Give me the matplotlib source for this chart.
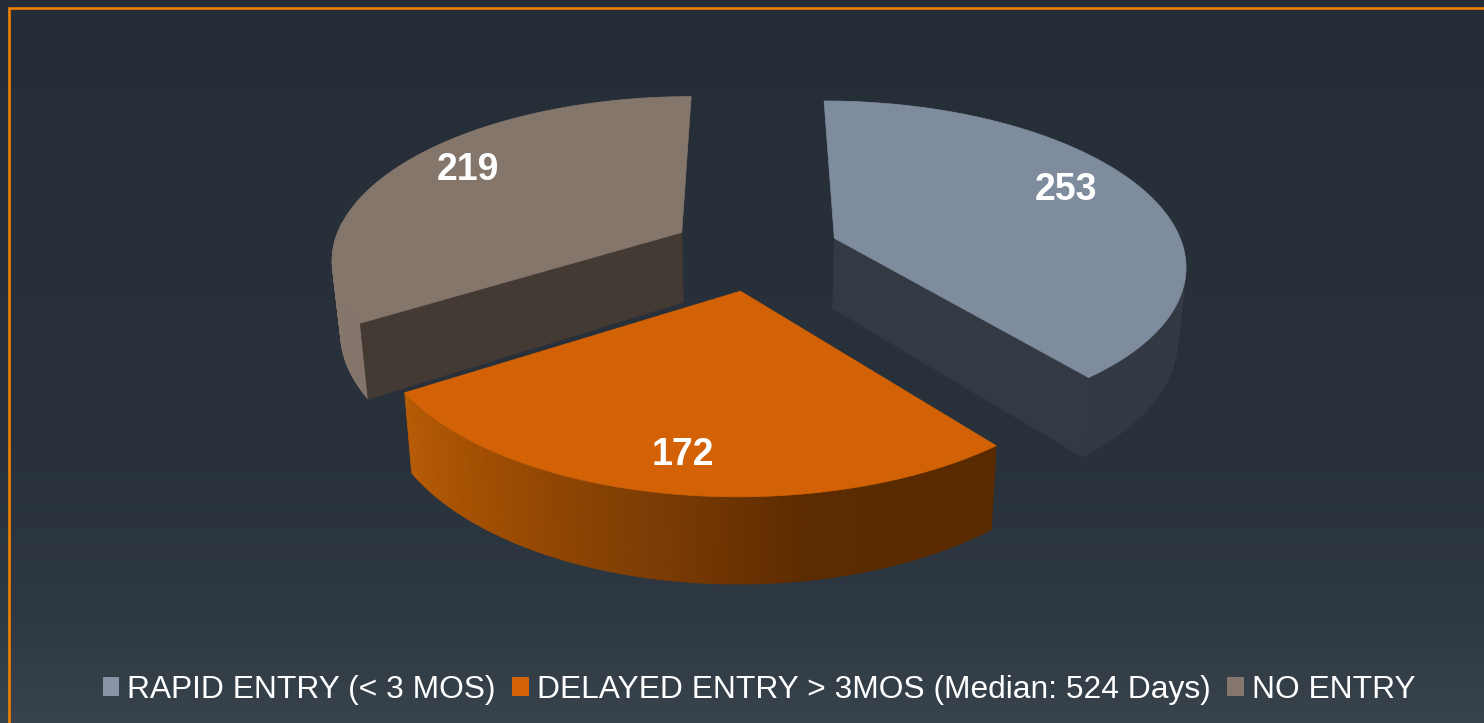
#!/usr/bin/env python3
# -*- coding: utf-8 -*-

import numpy as np
import matplotlib
matplotlib.use('Agg')
import matplotlib.pyplot as plt
from matplotlib.collections import PolyCollection
from matplotlib.colors import LinearSegmentedColormap
from matplotlib.patches import Patch, Polygon

plt.rcParams['font.family'] = ['Liberation Sans', 'DejaVu Sans']

# Chart data
categories = ['RAPID ENTRY (< 3 MOS)', 'DELAYED ENTRY > 3MOS (Median: 524 Days)', 'NO ENTRY']
values = [253, 172, 219]

top_colors = ['#7f8c9e', '#d26205', '#85766c']
legend_colors = ['#8a94a6', '#d26205', '#86776e']
cut_colors = ['#343a44', '#6a3300', '#443a34']
label_pos = [(1066, 190), (683, 455), (468, 170)]

# Which cut faces of each slice look at the viewer (0 = start, -1 = end)
cut_faces = [[-1], [], [0]]

# Projection of the tilted pie, in pixels
CX, CY = 755, 251
SCALE_X, SCALE_Y = 350, 161.4
PERSPECTIVE = 0.15
EXPLODE = 0.243
DEPTH = 71
SHRINK = 0.02


def project(x, y, low=False):
    p = 1 / (1 + PERSPECTIVE * y)
    sx = SCALE_X * x * p
    sy = -SCALE_Y * y * p
    if low:
        sx = sx * (1 - SHRINK)
        sy = sy + DEPTH * p
    return np.column_stack([CX + sx, CY + sy])


fig = plt.figure(figsize=(14.84, 7.23), dpi=100)
ax = fig.add_axes([0, 0, 1, 1])
ax.set_xlim(0, 1484)
ax.set_ylim(723, 0)
ax.axis('off')

# Background gradient
bg_cmap = LinearSegmentedColormap.from_list(
    'bg', [(0, '#262d36'), (0.62, '#29323b'), (0.85, '#2e3842'), (1, '#38434c')])
ax.imshow(np.linspace(0, 1, 256).reshape(-1, 1), cmap=bg_cmap, extent=[0, 1484, 723, 0],
          aspect='auto', zorder=0)

# Orange border, open on the right and at the bottom
ax.plot([9, 9, 1484], [723, 8, 8], color='#f08000', lw=1.9, zorder=1, solid_joinstyle='miter')

orange_rim = LinearSegmentedColormap.from_list(
    'rim', [(0, '#5a2a00'), (0.3, '#5c2b00'), (0.5, '#7a3b04'), (0.8, '#a24f03'), (1, '#b85c06')])
plain_rims = [LinearSegmentedColormap.from_list('r', ['#343a44', '#343a44']), orange_rim,
              LinearSegmentedColormap.from_list('n', ['#85766c', '#85766c'])]

angles = np.cumsum([0] + values) / sum(values) * 2 * np.pi

# Back slices first so the orange one lands on top
for i in [2, 0, 1]:
    a0, a1 = angles[i], angles[i + 1]
    mid = (a0 + a1) / 2
    ox, oy = EXPLODE * np.sin(mid), EXPLODE * np.cos(mid)
    t = np.linspace(a0, a1, 161)
    x = ox + np.sin(t)
    y = oy + np.cos(t)

    hi = project(x, y)
    lo = project(x, y, low=True)
    # only the part of the rim that faces the viewer
    quads = [[hi[j], hi[j + 1], lo[j + 1], lo[j]] for j in range(len(t) - 1)]
    shades = plain_rims[i](np.linspace(0, 1, len(quads)))
    front = [j for j in range(len(quads)) if np.cos(t[j]) < 0.05]
    ax.add_collection(PolyCollection([quads[j] for j in front], facecolors=shades[front],
                                     edgecolors=shades[front], linewidths=0.6, zorder=2 + i))

    apex_hi = project(np.array([ox]), np.array([oy]))
    apex_lo = project(np.array([ox]), np.array([oy]), low=True)
    for end in cut_faces[i]:
        face = np.vstack([apex_hi, hi[end], lo[end], apex_lo])
        ax.add_patch(Polygon(face, closed=True, facecolor=cut_colors[i], edgecolor=cut_colors[i], lw=0.5, zorder=2 + i))

    ax.add_patch(Polygon(np.vstack([apex_hi, hi]), closed=True, facecolor=top_colors[i],
                         edgecolor=top_colors[i], lw=0.5, zorder=2 + i))

for value, (lx, ly) in zip(values, label_pos):
    ax.text(lx, ly, str(value), color='white', fontsize=27, fontweight='bold', ha='center', va='center', zorder=10)

handles = [Patch(facecolor=c, edgecolor='none') for c in legend_colors]
ax.legend(handles, categories, ncol=3, loc='center', bbox_to_anchor=(759 / 1484, 1 - 690 / 723),
          frameon=False, fontsize=22.9, labelcolor='white', handlelength=0.52, handleheight=0.52,
          handletextpad=0.25, columnspacing=0.52, borderpad=0, borderaxespad=0)

fig.savefig('out.png', dpi=100)
